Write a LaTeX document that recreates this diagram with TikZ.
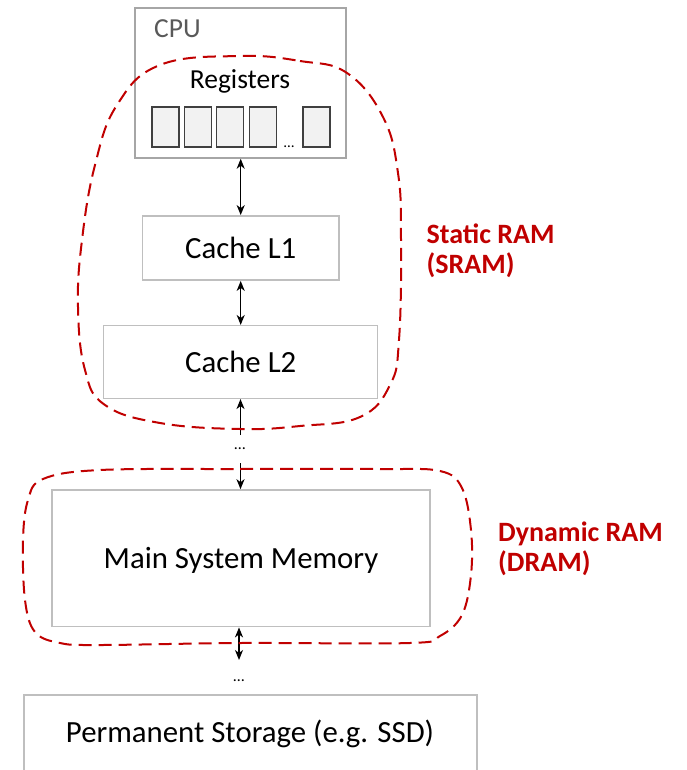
\documentclass[tikz,border=0pt]{standalone}
\usepackage{fontspec}
\setmainfont{Carlito}
\usetikzlibrary{arrows.meta}
\definecolor{boxgray}{HTML}{BFBFBF}
\definecolor{cpugray}{HTML}{A6A6A6}
\definecolor{regfill}{HTML}{F2F2F2}
\definecolor{regdraw}{HTML}{404040}
\definecolor{ramred}{HTML}{C00000}
\definecolor{cputext}{HTML}{595959}
\begin{document}
\begin{tikzpicture}[x=1pt,y=-1pt,
  membox/.style={draw=boxgray,line width=1.5pt,inner sep=0pt,font=\fontsize{30.8}{36}\selectfont,text depth=0pt},
  cpubox/.style={draw=cpugray,line width=1.5pt,inner sep=0pt},
  regbox/.style={draw=regdraw,fill=regfill,line width=1.4pt,minimum width=27pt,minimum height=40pt,inner sep=0pt},
  lbl/.style={inner sep=0pt,font=\fontsize{27.5}{30}\selectfont},
  dots/.style={inner sep=0pt,anchor=base,font=\fontsize{16}{18}\selectfont},
  ramlbl/.style={inner sep=0pt,anchor=base west,text=ramred,font=\bfseries\fontsize{28}{30}\selectfont},
  tip/.tip={Stealth[length=10pt,width=8pt,inset=3pt]},
  link/.style={line width=1.3pt,tip-tip},
  uplink/.style={line width=1.3pt,-tip},
  blob/.style={draw=ramred,line width=2pt,dash pattern=on 13pt off 7pt}]
\useasboundingbox (0,0) rectangle (686,770);
\clip (0,0) rectangle (686,770);
% CPU
\node[cpubox,minimum width=211pt,minimum height=150pt] (cpu) at (240.5,83) {};
\node[lbl,anchor=west,text=cputext] (cpulbl) at (154,29) {CPU};
\node[lbl,anchor=base] (reglbl) at (240,88.3) {Registers};
\node[regbox] (r1) at (165.3,127) {};
\node[regbox] (r2) at (197.8,127) {};
\node[regbox] (r3) at (229.9,127) {};
\node[regbox] (r4) at (262.8,127) {};
\node[regbox] (r5) at (316.5,127) {};
\node[dots,font=\fontsize{15}{18}\selectfont] (regdots) at (289,147.5) {…};
% caches
\node[membox,minimum width=196.7pt,minimum height=64.3pt] (l1) at (240.7,248) {Cache L1};
\node[membox,minimum width=274pt,minimum height=72.6pt] (l2) at (240.7,362) {Cache L2};
% main memory
\node[membox,minimum width=378pt,minimum height=136.7pt] (mem) at (241,558.3) {Main System Memory};
% permanent storage
\node[draw=boxgray,line width=1.5pt,inner sep=0pt,minimum width=453pt,minimum height=120pt] (perm) at (250.5,755) {};
\node[inner sep=0pt,anchor=base,font=\fontsize{30.8}{36}\selectfont] (permlbl) at (250,742) {Permanent Storage (e.g. SSD)};
% connectors
\draw[link] (cpu.south -| l1.north) -- (l1.north);
\draw[link] (l1.south) -- (l1.south |- l2.north);
\coordinate (d1top) at (240.5,435);
\draw[uplink] (d1top) -- (d1top |- l2.south);
\node[dots] (dots1) at (240,449.5) {…};
\coordinate (d1bot) at (240.5,463);
\draw[uplink] (d1bot) -- (d1bot |- mem.north);
\coordinate (d2top) at (239,660);
\draw[link] (d2top |- mem.south) -- (d2top);
\node[dots] (dots2) at (239,681.5) {…};
% labels
\node[ramlbl] (sram1) at (426.5,243.5) {Static RAM};
\node[ramlbl] (sram2) at (426.5,273.5) {(SRAM)};
\node[ramlbl] (dram1) at (498,541.7) {Dynamic RAM};
\node[ramlbl] (dram2) at (498,571.7) {(DRAM)};
% dashed groupings
\draw[blob] plot[smooth cycle,tension=0.7] coordinates {(240,56) (300,61) (347,73) (383,117) (398,173) (401,240) (399,340) (390,385) (360,417) (300,426) (240,429) (160,423) (105,405) (85,370) (78,307) (82,240) (95,165) (117,105) (160,65)};
\draw[blob] plot[smooth cycle,tension=0.6] coordinates {(100,470) (240,469) (380,469) (440,471) (462,488) (471,530) (471,575) (462,615) (440,636) (410,643) (240,643) (100,645) (60,643) (35,632) (25,600) (23,540) (28,500) (43,479)};
\end{tikzpicture}
\end{document}
